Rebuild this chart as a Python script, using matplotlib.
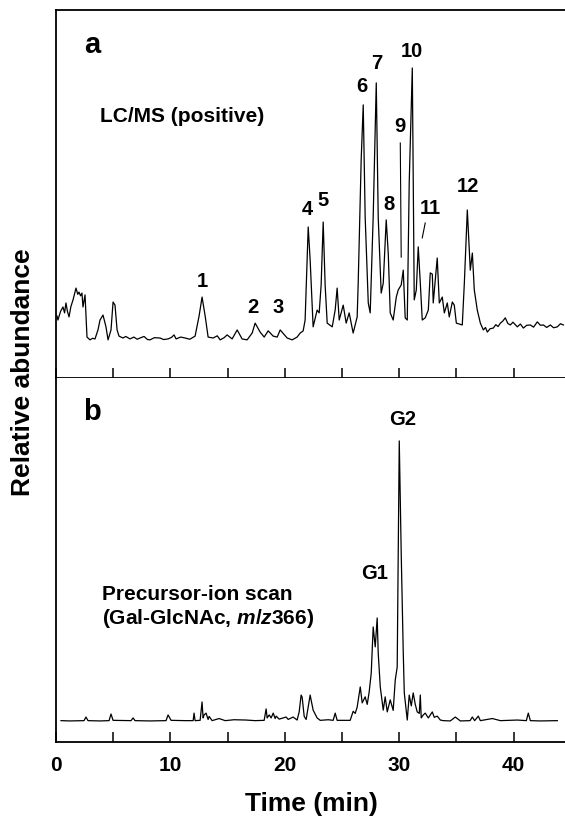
import matplotlib
matplotlib.use("Agg")
import matplotlib.pyplot as plt
from matplotlib.ticker import MultipleLocator

plt.rcParams['font.family'] = ['Liberation Sans', 'DejaVu Sans']
plt.rcParams['font.weight'] = 'bold'
plt.rcParams['mathtext.fontset'] = 'custom'
plt.rcParams['mathtext.rm'] = 'Liberation Sans:bold'
plt.rcParams['mathtext.it'] = 'Liberation Sans:italic:bold'

# ---- panel a : LC/MS (positive), time (min) vs abundance (peak 10 = 100)
t_a = [0.09, 0.17, 0.40, 0.61, 0.75, 0.87, 1.00, 1.14, 1.30, 1.49, 1.75, 1.90, 2.01, 2.15,
       2.27, 2.36, 2.54, 2.71, 2.97, 3.20,
       3.41, 3.67, 3.85, 4.11, 4.37, 4.55, 4.81, 4.99, 5.16, 5.34, 5.51, 5.86, 6.10, 6.47,
       6.80, 7.10, 7.35, 7.70, 8.00, 8.22, 8.60, 9.10, 9.40, 9.80, 10.10, 10.32, 10.50,
       10.90, 11.29, 11.70, 12.16, 12.51, 12.77, 13.04, 13.30,
       13.74, 14.10, 14.35, 14.70, 14.96, 15.40, 15.84, 16.27, 16.71, 17.15, 17.41, 17.85,
       18.20, 18.55, 18.99, 19.34, 19.60, 20.21, 20.65, 21.08, 21.35, 21.61, 21.78, 22.05,
       22.22, 22.48, 22.83, 23.01, 23.18, 23.36, 23.53, 23.71, 24.15, 24.41, 24.58,
       24.76, 25.11, 25.37, 25.63, 25.98, 26.33, 26.42, 26.68, 26.86, 27.03, 27.30,
       27.47, 27.73, 28.00, 28.17, 28.43, 28.61, 28.87, 29.05, 29.22, 29.48, 29.75,
       29.92, 30.18, 30.36, 30.53, 30.71, 30.88, 31.15, 31.23, 31.32, 31.50, 31.67,
       31.85, 32.02, 32.28, 32.55, 32.72, 32.90, 32.98, 33.33, 33.51, 33.77, 33.95,
       34.21, 34.38, 34.65, 34.82, 35.00, 35.52, 35.70, 35.96, 36.22, 36.40, 36.57,
       36.83, 37.10, 37.36, 37.55, 37.71, 37.95, 38.23, 38.45, 38.65, 38.85, 39.05, 39.28,
       39.50, 39.72, 39.95, 40.33, 40.60, 40.86, 41.15, 41.47, 41.75, 42.08, 42.35, 42.61,
       42.90, 43.22, 43.50, 43.83, 44.10, 44.36]
y_a = [20.0, 18.7, 21.5, 22.9, 21.0, 24.2, 21.5, 19.7, 23.0, 25.2, 29.0, 27.0, 27.7, 26.5,
       27.4, 22.9, 26.8, 13.2, 12.3, 12.8,
       12.6, 15.5, 18.7, 20.3, 16.5, 12.3, 15.5, 24.5, 23.5, 15.5, 13.5, 12.9, 13.4, 12.6,
       13.2, 12.5, 12.9, 13.4, 12.4, 12.3, 13.0, 12.9, 12.4, 12.6, 13.1, 13.9, 12.6,
       13.2, 12.9, 12.5, 13.5, 20.0, 26.1, 20.0, 13.2,
       12.9, 13.6, 12.3, 13.0, 13.9, 12.6, 15.5, 12.6, 12.3, 14.5, 17.7, 14.8,
       13.2, 15.2, 13.5, 13.2, 15.5, 12.9, 12.3, 13.2, 14.5, 15.2, 18.7, 48.7,
       38.0, 16.5, 21.9, 21.0, 30.0, 50.3, 30.0, 17.7, 16.5, 22.0, 29.0,
       18.7, 23.5, 17.7, 21.0, 14.5, 19.7, 30.6, 70.3, 88.1, 51.9, 24.2,
       21.0, 51.9, 95.2, 51.9, 27.4, 30.6, 51.0, 40.0, 21.0, 18.7, 26.1,
       28.4, 30.0, 34.8, 19.4, 18.7, 62.9, 100.0, 62.9, 25.2, 28.4, 42.3,
       30.6, 18.7, 19.4, 21.9, 33.9, 33.5, 24.2, 38.7, 24.2, 26.1, 21.0,
       24.2, 19.7, 24.5, 23.5, 17.7, 17.1, 30.6, 54.2, 34.8, 40.3, 28.4,
       21.9, 17.7, 15.5, 16.3, 14.8, 15.9, 16.1, 17.2, 16.6, 17.7, 18.3, 19.4,
       17.6, 17.1, 18.0, 16.5, 17.4, 16.1, 17.0, 17.1, 16.4, 18.1, 17.0, 17.1,
       16.3, 17.1, 16.2, 16.5, 17.5, 17.1]

# ---- panel b : precursor-ion scan (G2 = 100)
t_b = [0.44, 1.22, 2.45, 2.62, 2.80, 3.85, 4.64, 4.81, 4.99, 6.56, 6.74, 6.91, 8.22,
       9.62, 9.80, 10.06, 11.29, 11.99, 12.07, 12.16, 12.60, 12.77, 12.86, 12.95, 13.12,
       13.30, 13.39, 13.65, 14.26, 14.79, 15.57, 16.62, 17.41, 18.20, 18.37, 18.46,
       18.64, 18.81, 18.99, 19.16, 19.25, 19.51, 20.12, 20.30, 20.73, 21.08, 21.26,
       21.43, 21.52, 21.70, 21.87, 22.22, 22.48, 22.83, 23.10, 23.80, 24.23, 24.41,
       24.58, 25.72, 25.98, 26.16, 26.33, 26.60, 26.77, 27.03, 27.21, 27.38, 27.56,
       27.73, 27.91, 28.08, 28.17, 28.35, 28.61, 28.78, 28.96, 29.22, 29.48, 29.66,
       29.83, 29.92, 30.01, 30.18, 30.36, 30.45, 30.71, 30.88, 31.06, 31.23, 31.41,
       31.58, 31.76, 31.85, 31.93, 32.11, 32.28, 32.55, 32.90, 33.07, 33.33, 33.60,
       33.86, 34.47, 34.91, 35.35, 36.20, 36.40, 36.60, 36.92, 37.10, 38.15, 38.85,
       40.33, 41.12, 41.29, 41.47, 42.35, 43.83]
y_b = [7.1, 7.0, 7.1, 8.3, 7.1, 7.0, 7.1, 9.3, 7.2, 7.1, 8.0, 7.1, 7.0,
       7.1, 9.0, 7.2, 7.1, 7.1, 9.6, 7.1, 7.2, 13.3, 8.0, 9.0, 9.6,
       7.5, 8.5, 7.1, 7.8, 7.1, 7.4, 7.3, 7.1, 7.2, 11.0, 8.0,
       9.0, 8.0, 9.6, 7.8, 8.6, 7.6, 8.3, 7.5, 8.3, 7.3, 10.0,
       15.6, 14.9, 8.5, 7.5, 15.6, 10.6, 8.0, 7.2, 7.4, 7.2, 9.6,
       7.2, 7.2, 10.2, 9.5, 11.6, 18.3, 13.0, 15.0, 12.5, 16.6, 22.9,
       38.2, 31.6, 41.2, 29.6, 18.3, 10.6, 15.0, 10.0, 14.0, 10.5, 20.6,
       24.9, 62.8, 100.0, 62.8, 29.6, 16.3, 7.3, 15.6, 12.0, 16.3, 12.5,
       10.0, 9.5, 15.6, 8.0, 9.0, 9.6, 8.0, 10.0, 8.2, 8.6, 7.3,
       7.1, 7.0, 8.3, 7.0, 7.1, 8.3, 7.1, 8.6, 7.1, 7.8, 7.1,
       7.3, 7.1, 9.6, 7.1, 7.0, 7.1]

labels_a = ['1', '2', '3', '4', '5', '6', '7', '8', '9', '10', '11', '12']
lab_t_a = [12.77, 17.24, 19.42, 21.96, 23.36, 26.77, 28.08, 29.13, 30.10, 31.15, 32.72, 36.05]
lab_y_a = [31.0, 22.6, 22.6, 54.2, 57.4, 93.9, 101.6, 56.1, 81.0, 105.2, 54.8, 61.9]

labels_b = ['G1', 'G2']
lab_t_b = [27.82, 30.27]
lab_y_b = [56.1, 107.0]

xticks = [0, 10, 20, 30, 40]

fig = plt.figure(figsize=(5.65, 8.21), dpi=100)
ax1 = fig.add_axes([0.0991, 0.5396, 0.9009, 0.4482])
ax2 = fig.add_axes([0.0991, 0.0962, 0.9009, 0.4434])

for ax in (ax1, ax2):
    ax.set_xlim(0, 44.5)
    ax.spines['right'].set_visible(False)
    for s in ('left', 'bottom', 'top'):
        ax.spines[s].set_linewidth(1.3)
    ax.set_yticks([])
    ax.xaxis.set_major_locator(MultipleLocator(10))
    ax.xaxis.set_minor_locator(MultipleLocator(5))
    ax.tick_params(axis='x', which='both', direction='in', length=7.5, width=1.1,
                   labelsize=15, pad=10)

ax2.spines['top'].set_visible(False)
ax1.tick_params(axis='x', which='both', labelbottom=False)
ax2.set_xticks(xticks)
ax2.set_xticklabels([str(v) for v in xticks], fontweight='bold')

ax1.plot(t_a, y_a, color='black', lw=0.9)
ax1.set_ylim(0, 118.7)
ax2.plot(t_b, y_b, color='black', lw=0.9)
ax2.set_ylim(0, 120.9)

for lab, tx, ty in zip(labels_a, lab_t_a, lab_y_a):
    ax1.text(tx, ty, lab, ha='center', va='center', fontsize=14.5, fontweight='bold')
# leader lines for peaks 9 and 11
ax1.plot([30.10, 30.18], [75.8, 39.0], color='black', lw=0.8)
ax1.plot([32.28, 32.02], [50.0, 45.2], color='black', lw=0.8)

for lab, tx, ty in zip(labels_b, lab_t_b, lab_y_b):
    ax2.text(tx, ty, lab, ha='center', va='center', fontsize=14.5, fontweight='bold')

ax1.text(0.0707, 0.884, 'a', transform=ax1.transAxes, ha='center', va='baseline',
         fontsize=21, fontweight='bold')
ax2.text(0.0707, 0.884, 'b', transform=ax2.transAxes, ha='center', va='baseline',
         fontsize=21, fontweight='bold')
ax1.text(0.0864, 0.696, 'LC/MS (positive)', transform=ax1.transAxes, ha='left',
         va='baseline', fontsize=15, fontweight='bold')
ax2.text(0.090, 0.390, 'Precursor-ion scan', transform=ax2.transAxes, ha='left',
         va='baseline', fontsize=15, fontweight='bold')
ax2.text(0.090, 0.324, r'(Gal-GlcNAc, $\mathit{m/z}$366)', transform=ax2.transAxes,
         ha='left', va='baseline', fontsize=15, fontweight='bold')

fig.text(311 / 565, 1 - 804 / 821, 'Time (min)', ha='center', va='center',
         fontsize=19, fontweight='bold')
fig.text(23 / 565, 1 - 372 / 821, 'Relative abundance', ha='center', va='center',
         rotation=90, fontsize=19, fontweight='bold')

fig.savefig('out.png', dpi=100)
